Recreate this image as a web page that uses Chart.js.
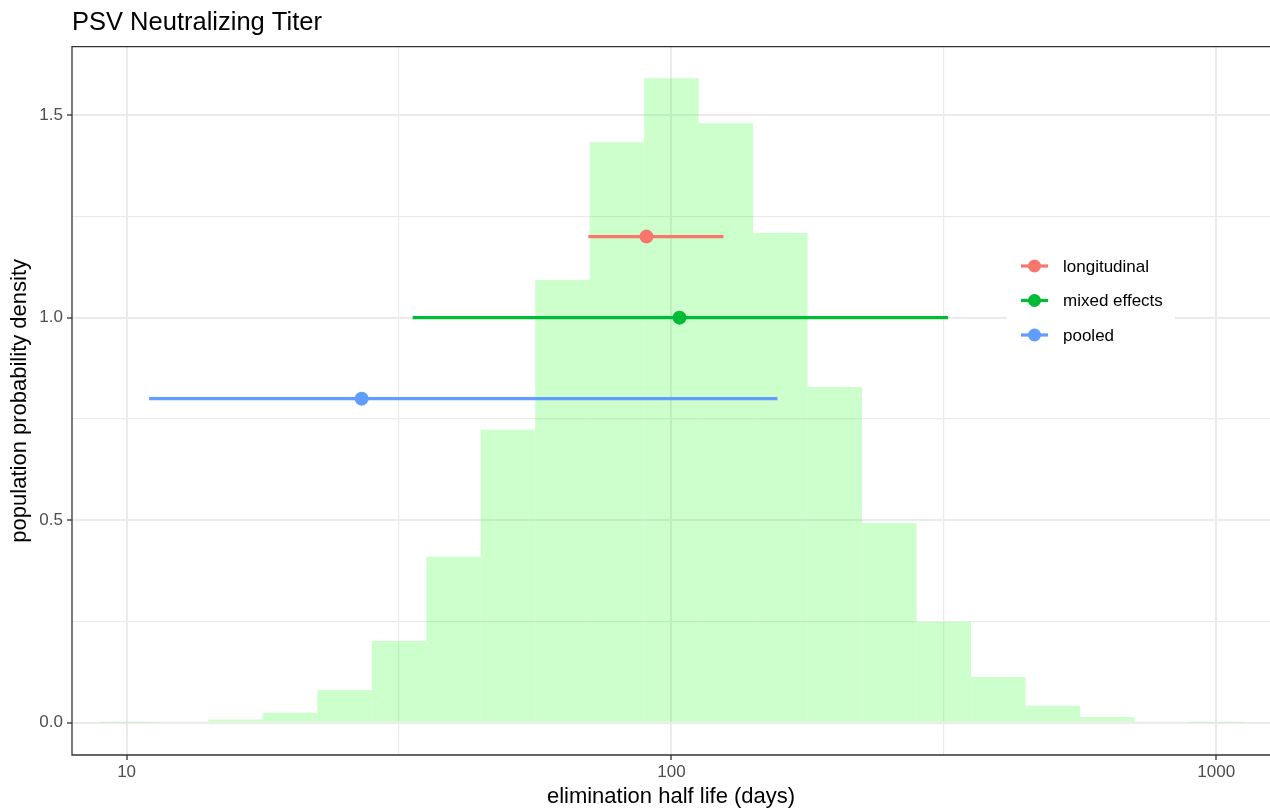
<!DOCTYPE html>
<html>
<head>
<meta charset="utf-8">
<title>PSV Neutralizing Titer</title>
<script src="https://cdn.jsdelivr.net/npm/chart.js@4.4.0/dist/chart.umd.min.js"></script>
<style>
  html, body { margin: 0; padding: 0; background: #fff; }
  #wrap { width: 1270px; height: 809px; }
</style>
</head>
<body>
<div id="wrap"><canvas id="Chart"></canvas></div>
<script>
// histogram of the population half life (bin centres in days)
const binCentres = [10, 12.59, 15.85, 19.95, 25.12, 31.62, 39.81, 50.12, 63.1, 79.43,
  100, 125.9, 158.5, 199.5, 251.2, 316.2, 398.1, 501.2, 631, 794.3, 1000];
const density = [0.001, 0.003, 0.008, 0.025, 0.081, 0.202, 0.41, 0.723, 1.093, 1.433,
  1.591, 1.48, 1.209, 0.829, 0.493, 0.249, 0.113, 0.042, 0.014, 0.003, 0.001];

// point estimates with their intervals
const series = ['longitudinal', 'mixed effects', 'pooled'];
const estimate = [90, 103.5, 27];
const lower = [70.4, 33.5, 11];
const upper = [124.6, 322, 156.5];
const yPos = [1.2, 1.0, 0.8];
const colours = ['#F8766D', '#00BA38', '#619CFF'];

// ticks
const xMajorTicks = [10, 100, 1000];
const xMinorTicks = [31.62, 316.2];
const yMajorTicks = [0, 0.5, 1, 1.5];
const yMinorTicks = [0.25, 0.75, 1.25];

Chart.defaults.font.family = "'Liberation Sans', Arial, sans-serif";

const panelBorder = {
  id: 'panelBorder',
  afterDatasetsDraw(chart) {
    const {ctx, chartArea: a} = chart;
    ctx.save();
    ctx.strokeStyle = '#333333';
    ctx.lineWidth = 1.3;
    ctx.beginPath();
    ctx.moveTo(a.right + 2, a.top);
    ctx.lineTo(a.left, a.top);
    ctx.lineTo(a.left, a.bottom);
    ctx.lineTo(a.right + 2, a.bottom);
    ctx.stroke();
    ctx.restore();
  }
};

// ggplot style legend sitting inside the panel
const insideLegend = {
  id: 'insideLegend',
  afterDraw(chart) {
    const ctx = chart.ctx;
    ctx.save();
    ctx.fillStyle = '#fff';
    ctx.fillRect(1007, 246, 168, 108);
    series.forEach((name, i) => {
      const y = 266 + i * 34.5;
      ctx.strokeStyle = colours[i];
      ctx.lineWidth = 3.2;
      ctx.beginPath();
      ctx.moveTo(1021, y);
      ctx.lineTo(1048, y);
      ctx.stroke();
      ctx.fillStyle = colours[i];
      ctx.beginPath();
      ctx.arc(1034.5, y, 6.5, 0, Math.PI * 2);
      ctx.fill();
      ctx.fillStyle = '#000';
      ctx.font = "17px 'Liberation Sans', Arial, sans-serif";
      ctx.textBaseline = 'middle';
      ctx.textAlign = 'left';
      ctx.fillText(name, 1063, y + 1);
    });
    ctx.restore();
  }
};

const datasets = [{
  type: 'bar',
  label: 'density',
  data: binCentres.map((x, i) => ({x: x, y: density[i]})),
  backgroundColor: 'rgba(0, 255, 0, 0.2)',
  borderWidth: 0,
  inflateAmount: 0,
  barPercentage: 1,
  categoryPercentage: 1,
  grouped: false,
  order: 10
}];
series.forEach((name, i) => {
  datasets.push({
    type: 'line',
    label: name,
    data: [{x: lower[i], y: yPos[i]}, {x: estimate[i], y: yPos[i]}, {x: upper[i], y: yPos[i]}],
    borderColor: colours[i],
    backgroundColor: colours[i],
    borderWidth: 3.3,
    fill: false,
    pointRadius: ctx => ctx.dataIndex === 1 ? 7 : 0,
    pointBorderWidth: 0,
    order: 1
  });
});

const isXMajor = ctx => ctx.tick && xMajorTicks.includes(ctx.tick.value);
const isYMajor = ctx => ctx.tick && yMajorTicks.includes(ctx.tick.value);

const ctx = document.getElementById('Chart').getContext('2d');
const myChart = new Chart(ctx, {
  type: 'bar',
  data: { datasets: datasets },
  plugins: [panelBorder, insideLegend],
  options: {
    responsive: true,
    maintainAspectRatio: false,
    animation: false,
    events: [],
    layout: { padding: 0 },
    plugins: {
      legend: { display: false },
      tooltip: { enabled: false },
      title: {
        display: true,
        text: 'PSV Neutralizing Titer',
        align: 'start',
        fullSize: false,
        color: '#000',
        font: { size: 25.5, weight: 'normal' },
        padding: { top: 8, bottom: 8 }
      }
    },
    scales: {
      x: {
        type: 'logarithmic',
        min: 7.94,
        max: 1255,
        offset: false,
        afterFit: s => { s.height = 54; },
        afterBuildTicks: s => {
          s.ticks = xMajorTicks.concat(xMinorTicks).sort((a, b) => a - b).map(v => ({value: v}));
        },
        ticks: {
          autoSkip: false,
          maxRotation: 0,
          minRotation: 0,
          color: '#4D4D4D',
          font: { size: 17 },
          padding: 2,
          callback: v => xMajorTicks.includes(v) ? String(v) : ''
        },
        grid: {
          offset: false,
          color: '#EBEBEB',
          lineWidth: ctx => isXMajor(ctx) ? 2 : 1.2,
          tickColor: ctx => isXMajor(ctx) ? '#333333' : 'rgba(0,0,0,0)',
          tickWidth: 1.3,
          tickLength: 5
        },
        border: { display: false },
        title: {
          display: true,
          text: 'elimination half life (days)',
          color: '#000',
          font: { size: 22, lineHeight: 1 },
          padding: { top: 0, bottom: 1 }
        }
      },
      y: {
        type: 'linear',
        min: -0.0795,
        max: 1.669,
        afterFit: s => { s.width = 72; },
        afterBuildTicks: s => {
          s.ticks = yMajorTicks.concat(yMinorTicks).sort((a, b) => a - b).map(v => ({value: v}));
        },
        ticks: {
          color: '#4D4D4D',
          font: { size: 17 },
          padding: 4,
          callback: v => yMajorTicks.includes(v) ? v.toFixed(1) : ''
        },
        grid: {
          color: '#EBEBEB',
          lineWidth: ctx => isYMajor(ctx) ? 2 : 1.2,
          tickColor: ctx => isYMajor(ctx) ? '#333333' : 'rgba(0,0,0,0)',
          tickWidth: 1.3,
          tickLength: 5
        },
        border: { display: false },
        title: {
          display: true,
          text: 'population probability density',
          color: '#000',
          font: { size: 22, lineHeight: 1 },
          padding: { top: 9 }
        }
      }
    }
  }
});
</script>
</body>
</html>
